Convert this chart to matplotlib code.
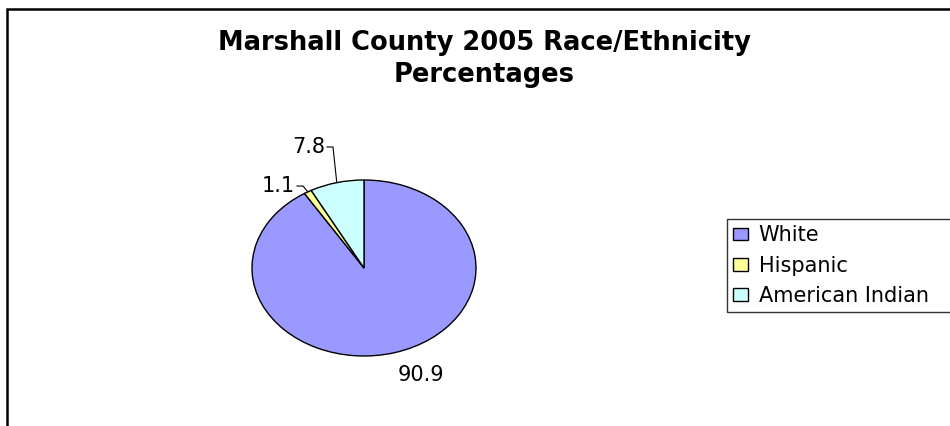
import numpy as np
import matplotlib.pyplot as plt
from matplotlib.patches import Rectangle

plt.rcParams['font.family'] = ['DejaVu Sans']

categories = ['White', 'Hispanic', 'American Indian']
percentages = [90.9, 1.1, 7.8]
colors = ['#9999FF', '#FFFF99', '#CCFFFF']
title = 'Marshall County 2005 Race/Ethnicity\nPercentages'

W, H = 950, 426
fig = plt.figure(figsize=(W / 100, H / 100), dpi=100)

# outer chart border (runs off the right and bottom edges like the original)
fig.patches.append(Rectangle((6.5 / W, -0.2), 1.2, 1.2 - 9 / H,
                             transform=fig.transFigure, fill=False,
                             edgecolor='black', linewidth=1.8))

fig.text(484 / W, 1 - 59 / H, title, ha='center', va='center',
         fontsize=18.5, fontweight='bold', linespacing=1.35)

# pie is stretched horizontally (ellipse), so aspect is left free
cx, cy, rx, ry = 364, 268, 112, 88
ax = fig.add_axes([(cx - rx) / W, (H - cy - ry) / H, 2 * rx / W, 2 * ry / H])
wedges, _ = ax.pie(percentages, colors=colors, startangle=90, counterclock=False,
                   wedgeprops=dict(edgecolor='black', linewidth=1))
ax.set_aspect('auto')
ax.set_xlim(-1, 1)
ax.set_ylim(-1, 1)

def px(x, y):
    return (x - cx) / rx, (cy - y) / ry

# data labels
lab_white = px(421, 375)
ax.text(*lab_white, f'{percentages[0]:.1f}', ha='center', va='center', fontsize=15)

# leader lines for the two small slices, starting at each wedge's mid angle
leader = {1: [(303, 186), (297, 186)], 2: [(333, 147), (327, 147)]}
for i, pts in leader.items():
    w = wedges[i]
    ang = np.deg2rad((w.theta1 + w.theta2) / 2)
    xs = [np.cos(ang)] + [px(*p)[0] for p in pts]
    ys = [np.sin(ang)] + [px(*p)[1] for p in pts]
    ax.plot(xs, ys, color='black', linewidth=0.8, clip_on=False)
    tx, ty = px(*pts[-1])
    ax.text(tx - 0.02, ty, f'{percentages[i]:.1f}', ha='right', va='center',
            fontsize=15)

# legend box continues past the right edge, as in the original
leg = fig.legend(wedges, categories, loc='upper left', mode='expand',
                 bbox_to_anchor=(727 / W, 1 - 219 / H, 0.3, 0), fontsize=15,
                 frameon=True, fancybox=False, shadow=False,
                 handlelength=0.72, handleheight=0.55, handletextpad=0.5,
                 labelspacing=0.5, borderpad=0.3, borderaxespad=0)
leg.get_frame().set_edgecolor('black')
leg.get_frame().set_linewidth(1)

fig.savefig('out.png', dpi=100)
